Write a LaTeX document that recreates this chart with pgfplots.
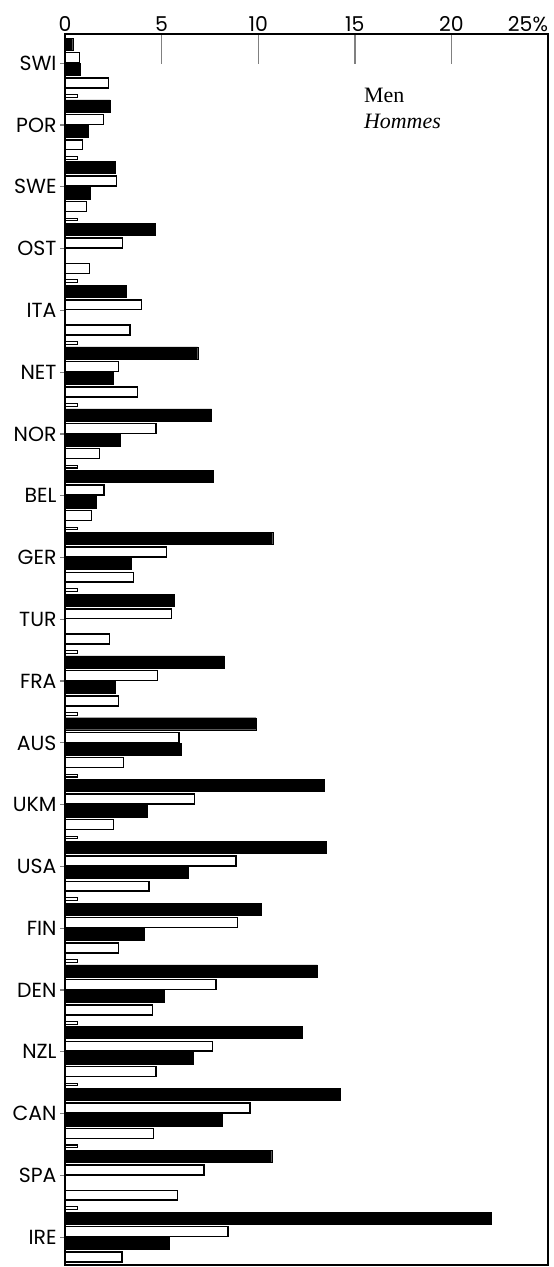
\documentclass[border=0pt]{standalone}
\usepackage{pgfplots}
\pgfplotsset{compat=1.18}
\usepackage{fontspec}
\setmainfont{Poppins}
\newfontfamily\serif{Liberation Serif}
\begin{document}
\begin{tikzpicture}
\begin{axis}[
  scale only axis, width=483bp, height=1231bp,
  xmin=0, xmax=25, ymin=-0.81, ymax=98.8, y dir=reverse,
  axis line style={line width=1.8pt},
  xtick={0,5,10,15,20,25},
  xticklabels={0,5,10,15,20,\makebox[0pt][r]{25\%}},
  xtick pos=top, xticklabel pos=top,
  tick align=inside,
  xtick style={line width=1.4pt, /pgfplots/major tick length=30bp},
  ytick={1.55,6.55,11.55,16.55,21.55,26.55,31.55,36.55,41.55,46.55,51.55,56.55,61.55,66.55,71.55,76.55,81.55,86.55,91.55,96.55},
  yticklabels={SWI,POR,SWE,OST,ITA,NET,NOR,BEL,GER,TUR,FRA,AUS,UKM,USA,FIN,DEN,NZL,CAN,SPA,IRE},
  ytick pos=left,
  ytick style={line width=1.2pt, /pgfplots/major tick length=5bp, xshift=-5bp},
  tick label style={font=\fontsize{20.5}{22}\selectfont},
  yticklabel style={xshift=-5bp},
  xticklabel style={yshift=-1bp},
  minor tick num=0,
]
% black bars (first)
\addplot[xbar, bar width=0.97, fill=black, draw=black] coordinates {
(0.40,0) (2.33,5) (2.59,10) (4.66,15) (3.16,20) (6.87,25) (7.59,30) (7.68,35) (10.75,40) (5.64,45)
(8.23,50) (9.89,55) (13.42,60) (13.51,65) (10.18,70) (13.06,75) (12.28,80) (14.23,85) (10.7,90) (22.08,95)};
% white bars (first)
\addplot[xbar, bar width=0.8, fill=white, draw=black, line width=1.5pt] coordinates {
(0.74,1.1) (1.98,6.1) (2.67,11.1) (2.97,16.1) (3.97,21.1) (2.76,26.1) (4.71,31.1) (2.02,36.1) (5.26,41.1) (5.52,46.1)
(4.78,51.1) (5.90,56.1) (6.69,61.1) (8.85,66.1) (8.92,71.1) (7.82,76.1) (7.63,81.1) (9.58,86.1) (7.2,91.1) (8.43,96.1)};
% black bars (second)
\addplot[xbar, bar width=0.97, fill=black, draw=black] coordinates {
(0.78,2.05) (1.21,7.05) (1.29,12.05) (2.50,27.05) (2.88,32.05) (1.60,37.05) (3.45,42.05)
(2.59,52.05) (6.00,57.05) (4.28,62.05) (6.38,67.05) (4.09,72.05) (5.14,77.05) (6.64,82.05) (8.16,87.05) (5.38,97.05)};
% white bars (second)
\addplot[xbar, bar width=0.8, fill=white, draw=black, line width=1.5pt] coordinates {
(2.24,3.15) (0.91,8.15) (1.12,13.15) (1.26,18.15) (3.36,23.15) (3.74,28.15) (1.78,33.15) (1.38,38.15) (3.54,43.15) (2.29,48.15)
(2.76,53.15) (3.02,58.15) (2.50,63.15) (4.35,68.15) (2.76,73.15) (4.54,78.15) (4.71,83.15) (4.57,88.15) (5.83,93.15) (2.95,98.15)};
% small bars
\addplot[xbar, bar width=0.22, fill=white, draw=black, line width=1.1pt] coordinates {
(0.64,4.2) (0.64,9.2) (0.64,14.2) (0.64,19.2) (0.64,24.2) (0.64,29.2) (0.64,34.2) (0.64,39.2) (0.64,44.2) (0.64,49.2)
(0.64,54.2) (0.64,59.2) (0.64,64.2) (0.64,69.2) (0.64,74.2) (0.64,79.2) (0.64,84.2) (0.64,89.2) (0.64,94.2)};
\node[anchor=base west, font=\serif\fontsize{22}{26}\selectfont] at (axis cs:15.3,4.7) {Men};
\node[anchor=base west, font=\serif\fontsize{22}{26}\selectfont\itshape] at (axis cs:15.3,6.8) {Hommes};
\end{axis}
\pgfresetboundingbox
\path[use as bounding box] ([shift={(-65bp,-2bp)}]current axis.south west) rectangle ([shift={(5bp,34bp)}]current axis.north east);
\end{tikzpicture}
\end{document}
